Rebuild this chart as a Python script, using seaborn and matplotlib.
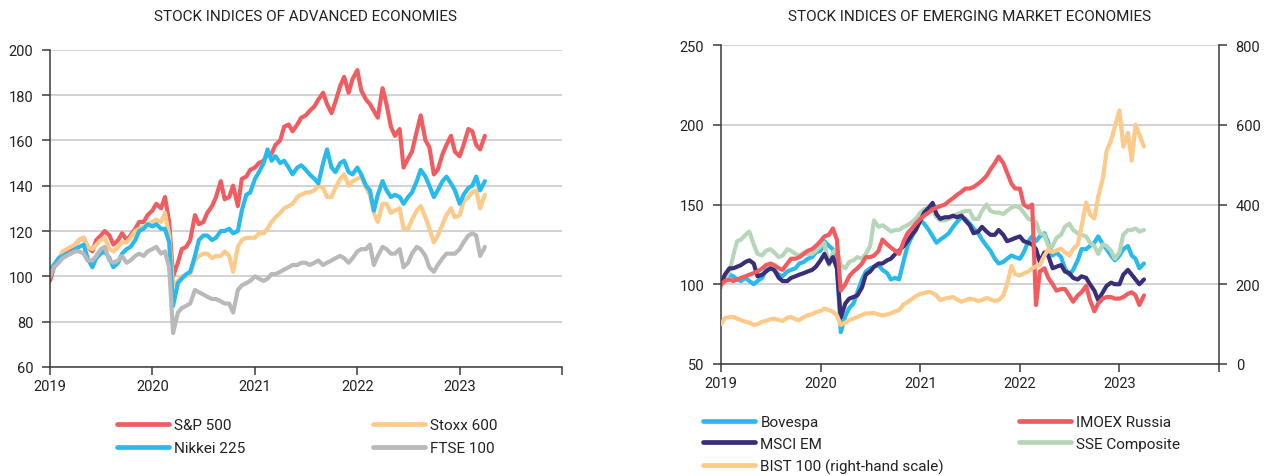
import numpy as np
import pandas as pd
import matplotlib
matplotlib.use("Agg")
import matplotlib.pyplot as plt
import seaborn as sns
from matplotlib.lines import Line2D

# ---------------- data (semi-monthly readings, index 100 = Jan 2019) ----------------
dates = pd.date_range("2019-01-01", "2023-04-01", freq="SMS")

sp500 = [98, 104, 107, 110, 111, 112, 114, 116, 117, 113, 111, 116, 118, 120, 118, 114, 116, 119, 116, 118, 121, 124, 124, 127,
         129, 132, 130, 135, 124, 100, 106, 112, 113, 116, 127, 123, 124, 128, 131, 135, 142, 134, 135, 140, 131, 143, 144, 147,
         148, 150, 151, 154, 154, 158, 160, 166, 167, 164, 167, 170, 171, 173, 175, 178, 181, 176, 172, 177, 184, 188, 181, 187,
         191, 182, 178, 176, 173, 170, 183, 176, 166, 162, 165, 148, 152, 155, 164, 171, 160, 157, 145, 147, 154, 158, 162, 155,
         153, 158, 165, 164, 158, 156, 162]
stoxx600 = [102, 105, 108, 111, 112, 113, 114, 116, 117, 113, 112, 114, 116, 117, 112, 111, 113, 115, 115, 117, 120, 121, 122, 123,
            124, 125, 124, 128, 118, 96, 98, 100, 100, 101, 107, 109, 110, 110, 108, 109, 109, 111, 109, 102, 113, 116, 117, 117,
            117, 119, 119, 121, 124, 126, 128, 130, 131, 132, 135, 136, 137, 137, 138, 140, 139, 135, 135, 139, 143, 145, 140, 142,
            143, 144, 139, 136, 128, 124, 132, 132, 128, 129, 130, 121, 121, 125, 129, 131, 126, 121, 115, 118, 123, 127, 130, 126,
            127, 133, 135, 137, 138, 130, 136]
nikkei225 = [103, 105, 108, 109, 110, 110, 112, 113, 114, 108, 104, 108, 110, 111, 108, 104, 106, 110, 112, 113, 116, 120, 121, 123,
             122, 123, 121, 121, 115, 87, 97, 99, 101, 102, 109, 116, 118, 118, 116, 117, 120, 120, 121, 119, 120, 129, 136, 137,
             143, 146, 150, 156, 151, 153, 150, 151, 148, 145, 148, 149, 147, 145, 143, 141, 150, 156, 148, 146, 150, 151, 146, 145,
             148, 145, 140, 138, 129, 136, 142, 138, 135, 136, 135, 132, 135, 137, 142, 147, 144, 140, 135, 138, 142, 144, 141, 138,
             132, 136, 139, 140, 144, 138, 142]
ftse100 = [100, 104, 106, 108, 109, 110, 111, 111, 110, 107, 107, 109, 112, 113, 107, 106, 107, 109, 106, 107, 109, 110, 109, 111,
           112, 113, 110, 111, 104, 75, 84, 86, 87, 88, 94, 93, 92, 91, 90, 90, 89, 88, 88, 84, 94, 96, 97, 98,
           100, 99, 98, 99, 101, 101, 102, 103, 104, 105, 105, 106, 106, 105, 106, 107, 105, 106, 107, 108, 109, 108, 106, 108,
           111, 112, 112, 114, 105, 109, 113, 112, 110, 110, 112, 104, 106, 110, 113, 112, 109, 104, 102, 105, 108, 110, 110, 110,
           112, 115, 118, 119, 118, 109, 113]

bovespa = [100, 104, 106, 105, 103, 102, 104, 102, 100, 102, 104, 109, 110, 109, 106, 105, 108, 109, 110, 113, 114, 116, 117, 120,
           121, 127, 124, 122, 112, 70, 80, 85, 88, 95, 103, 108, 110, 111, 112, 109, 107, 103, 104, 103, 115, 124, 130, 134,
           140, 138, 134, 130, 126, 128, 130, 132, 136, 139, 142, 141, 138, 135, 132, 128, 124, 121, 116, 113, 114, 116, 118, 117,
           116, 120, 127, 130, 127, 130, 132, 126, 118, 120, 117, 110, 106, 109, 115, 122, 122, 124, 126, 130, 125, 122, 118, 115,
           118, 122, 124, 118, 116, 110, 113]
imoex = [100, 102, 103, 102, 103, 104, 105, 106, 107, 108, 110, 112, 113, 112, 110, 109, 113, 116, 116, 117, 119, 121, 122, 124,
         127, 130, 131, 135, 128, 96, 100, 105, 108, 110, 113, 117, 117, 118, 121, 128, 125, 123, 121, 119, 127, 132, 135, 138,
         141, 143, 145, 147, 148, 149, 150, 152, 154, 156, 158, 160, 160, 161, 163, 165, 168, 172, 176, 180, 176, 170, 163, 160,
         160, 150, 148, 150, 87, 108, 110, 104, 100, 96, 97, 97, 93, 89, 93, 95, 99, 90, 83, 88, 91, 92, 92, 91,
         91, 92, 94, 95, 93, 87, 93]
msci_em = [100, 106, 110, 110, 111, 112, 114, 115, 113, 105, 106, 108, 110, 109, 104, 102, 102, 104, 105, 106, 107, 108, 109, 111,
           115, 119, 113, 117, 110, 79, 88, 91, 92, 93, 98, 106, 108, 111, 113, 113, 115, 116, 119, 121, 124, 127, 131, 134,
           140, 145, 148, 151, 144, 141, 142, 142, 143, 142, 143, 140, 137, 132, 133, 136, 133, 131, 131, 134, 131, 127, 128, 129,
           130, 127, 126, 125, 122, 114, 120, 118, 110, 111, 112, 108, 107, 104, 103, 105, 104, 100, 96, 90, 95, 99, 101, 100,
           100, 106, 109, 106, 103, 100, 103]
sse = [98, 103, 108, 118, 127, 128, 131, 133, 125, 119, 118, 121, 122, 120, 117, 118, 122, 121, 119, 118, 120, 119, 119, 121,
       124, 126, 112, 120, 122, 112, 110, 114, 115, 117, 116, 119, 124, 140, 136, 137, 135, 133, 134, 134, 136, 137, 139, 141,
       145, 147, 148, 146, 142, 140, 140, 141, 142, 144, 145, 146, 146, 141, 141, 146, 150, 146, 145, 145, 144, 146, 148, 149,
       148, 145, 141, 140, 139, 132, 131, 124, 124, 129, 131, 136, 138, 134, 132, 131, 130, 126, 124, 119, 125, 124, 121, 116,
       120, 131, 134, 134, 135, 133, 134]
bist100 = [100, 115, 118, 118, 114, 110, 106, 104, 98, 100, 106, 108, 112, 114, 110, 108, 116, 118, 112, 110, 118, 122, 125, 130,
           133, 139, 135, 131, 122, 98, 104, 110, 114, 118, 123, 127, 127, 128, 124, 122, 124, 127, 132, 135, 150, 155, 163, 170,
           176, 178, 181, 178, 172, 160, 164, 166, 168, 162, 156, 160, 164, 162, 158, 160, 166, 162, 158, 160, 172, 200, 246, 225,
           222, 227, 232, 240, 245, 248, 272, 288, 281, 285, 289, 280, 272, 288, 300, 345, 405, 375, 365, 420, 465, 535, 560, 595,
           636, 545, 580, 510, 600, 575, 545]

adv_names = ["S&P 500", "Stoxx 600", "Nikkei 225", "FTSE 100"]
adv_values = [sp500, stoxx600, nikkei225, ftse100]
em_names = ["Bovespa", "SSE Composite", "MSCI EM", "IMOEX Russia"]
em_values = [bovespa, sse, msci_em, imoex]
bist_name = "BIST 100 (right-hand scale)"

year_ticks = [pd.Timestamp(f"{y}-01-01") for y in range(2019, 2025)]
year_labels = ["2019", "2020", "2021", "2022", "2023", ""]

# ---------------- style ----------------
RED = "#f15c61"
PEACH = "#fdca8a"
CYAN = "#28baed"
GREY = "#b9b9bb"
PURPLE = "#3a2e78"
GREEN = "#b7d6b9"
SPINE = "#3a3a3a"
GRID = "#cbcbcb"
TXT = "#222222"

colors = {"S&P 500": RED, "Stoxx 600": PEACH, "Nikkei 225": CYAN, "FTSE 100": GREY,
          "Bovespa": CYAN, "SSE Composite": GREEN, "MSCI EM": PURPLE, "IMOEX Russia": RED,
          bist_name: PEACH}

sns.set_theme(style="white")
plt.rcParams["font.family"] = ["Roboto", "DejaVu Sans"]

LW = 3.0
W, H = 1270, 477
fig = plt.figure(figsize=(W / 100, H / 100), dpi=100)


def box(x0, y0, x1, y1):
    return [x0 / W, 1 - y1 / H, (x1 - x0) / W, (y1 - y0) / H]


def long_df(names, values):
    return pd.DataFrame({
        "date": np.concatenate([dates.values] * len(names)),
        "value": np.concatenate([np.asarray(v, float) for v in values]),
        "series": np.repeat(names, len(dates)),
    })


def style_axis(ax):
    ax.set_xlim(year_ticks[0], year_ticks[-1])
    ax.set_xticks(year_ticks)
    ax.set_xticklabels(year_labels)
    ax.set_xlabel("")
    ax.set_ylabel("")
    for s in ["top", "right"]:
        ax.spines[s].set_visible(False)
    for s in ["left", "bottom"]:
        ax.spines[s].set_color(SPINE)
        ax.spines[s].set_linewidth(1.1)
    ax.yaxis.grid(True, color=GRID, lw=1.2)
    ax.xaxis.grid(False)
    ax.set_axisbelow(True)
    ax.tick_params(axis="x", bottom=True, direction="out", length=6, width=1.1, color=SPINE,
                   labelsize=10.5, labelcolor=TXT, pad=3)
    ax.tick_params(axis="y", left=True, direction="out", length=6, width=1.1, color=SPINE,
                   labelsize=10.5, labelcolor=TXT, pad=6)


# ---------------- left chart ----------------
axL = fig.add_axes(box(50, 50.7, 562, 368))
sns.lineplot(data=long_df(adv_names, adv_values), x="date", y="value", hue="series",
             hue_order=adv_names, palette=colors, lw=LW, legend=False, ax=axL)
style_axis(axL)
axL.set_ylim(60, 200)
axL.set_yticks(range(60, 201, 20))
fig.text(306 / W, 1 - 17 / H, "STOCK INDICES OF ADVANCED ECONOMIES", ha="center", va="center",
         fontsize=11, color=TXT)

# ---------------- right chart ----------------
axR = fig.add_axes(box(721, 46, 1219, 365))
sns.lineplot(data=long_df(em_names, em_values), x="date", y="value", hue="series",
             hue_order=em_names, palette=colors, lw=LW, legend=False, ax=axR)
style_axis(axR)
axR.set_ylim(50, 250)
axR.set_yticks(range(50, 251, 50))

ax2 = axR.twinx()
sns.lineplot(x=dates, y=bist100, color=PEACH, lw=LW, ax=ax2)
ax2.set_ylim(0, 800)
ax2.set_yticks(range(0, 801, 200))
ax2.set_ylabel("")
for s in ["top", "left", "bottom"]:
    ax2.spines[s].set_visible(False)
ax2.spines["right"].set_color(SPINE)
ax2.spines["right"].set_linewidth(1.1)
ax2.grid(False)
ax2.tick_params(axis="y", right=True, direction="out", length=6, width=1.1, color=SPINE,
                labelsize=10.5, labelcolor=TXT, pad=6)
axR.set_xlim(year_ticks[0], year_ticks[-1])
fig.text(970 / W, 1 - 17 / H, "STOCK INDICES OF EMERGING MARKET ECONOMIES", ha="center", va="center",
         fontsize=11, color=TXT)


# ---------------- legends ----------------
def add_legend(names, x, y, spacing):
    handles = [Line2D([0], [0], color=colors[n], lw=3.4, solid_capstyle="round") for n in names]
    fig.legend(handles, names, loc="upper left", bbox_to_anchor=(x / W, 1 - y / H),
               frameon=False, fontsize=11, handlelength=3.4, handletextpad=0.35,
               labelspacing=spacing, borderpad=0, borderaxespad=0, labelcolor=TXT)


add_legend(["S&P 500", "Nikkei 225"], 117, 419, 0.6)
add_legend(["Stoxx 600", "FTSE 100"], 373, 419, 0.6)
add_legend(["Bovespa", "MSCI EM", bist_name], 703, 416, 0.5)
add_legend(["IMOEX Russia", "SSE Composite"], 1019, 416, 0.5)

fig.savefig("out.png", dpi=100)
